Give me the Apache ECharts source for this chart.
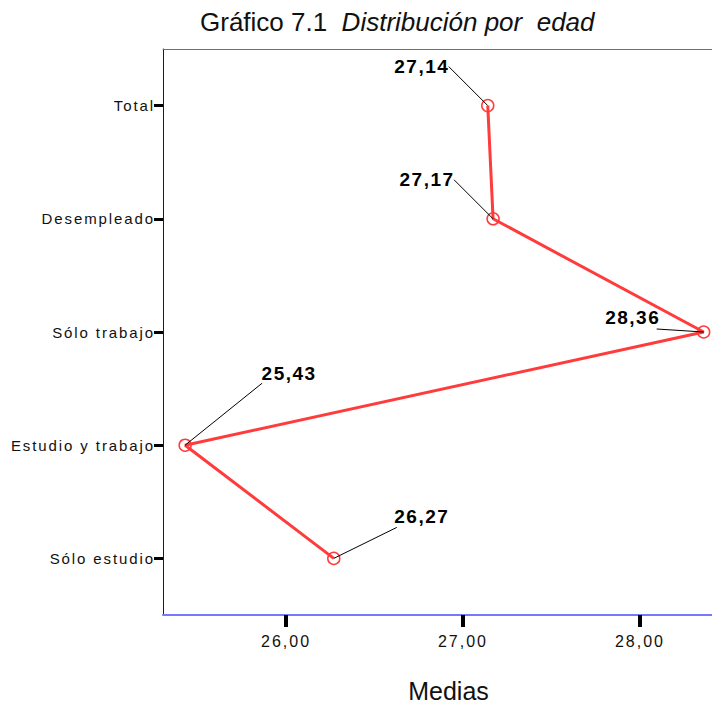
<!DOCTYPE html>
<html><head><meta charset="utf-8">
<script src="https://cdn.jsdelivr.net/npm/echarts@6/dist/echarts.min.js"></script>
<style>
html,body{margin:0;padding:0;background:#fff}
#c{width:712px;height:705px}
#c text{white-space:pre}
#c text[style*="15px"]{letter-spacing:1.9px}
#c text[style*="16px"]{letter-spacing:2px}
#c text[style*="19px"]{letter-spacing:1.5px}
</style></head><body><div id="c"></div>
<script>
const categories = ['Total', 'Desempleado', 'Sólo trabajo', 'Estudio y trabajo', 'Sólo estudio'];
const medias = [27.14, 27.17, 28.36, 25.43, 26.27];
const xTicks = [26, 27, 28];
const titleMain = 'Gráfico 7.1';
const titleItalic = 'Distribución por  edad';
const axisName = 'Medias';

// label placement (text centre and leader start, relative to each point)
const textOff = [[-66, -39], [-66, -39], [-71, -15], [104, -72], [88, -42]];
const lineOff = [[-39, -39], [-39, -39], [-47, -3], [77, -62], [63, -31]];

const FF = '"Liberation Sans", Arial, sans-serif';
const fmt = v => v.toFixed(2).replace('.', ',');
const XMIN = 25.305, XMAX = 28.407;

const chart = echarts.init(document.getElementById('c'), null, {renderer: 'svg'});
chart.setOption({
  animation: false,
  backgroundColor: '#fff',
  title: {
    text: titleMain + '  {i|' + titleItalic + '}',
    left: 195, top: 4,
    textStyle: {
      fontFamily: FF, fontSize: 26, fontWeight: 'normal', color: '#111',
      rich: {i: {fontFamily: FF, fontSize: 26, fontStyle: 'italic', color: '#111'}}
    }
  },
  grid: {left: 163, right: 0, top: 49, bottom: 90, containLabel: false, outerBoundsMode: 'none'},
  xAxis: [{
    type: 'value', min: XMIN, max: XMAX, position: 'bottom',
    axisLine: {show: true, onZero: false, lineStyle: {color: '#7777ff', width: 2}},
    axisTick: {show: true, customValues: xTicks, length: 12, lineStyle: {color: '#000', width: 4}},
    axisLabel: {customValues: xTicks, formatter: v => fmt(v), margin: 18,
      fontFamily: FF, fontSize: 16, color: '#111'},
    splitLine: {show: false},
    name: axisName, nameLocation: 'middle', nameGap: 63,
    nameTextStyle: {fontFamily: FF, fontSize: 25, color: '#111', padding: [0, 0, 0, 22]}
  }, {
    type: 'value', min: XMIN, max: XMAX, position: 'top',
    axisLine: {show: true, onZero: false, lineStyle: {color: '#6060f0', width: 1}},
    axisTick: {show: false}, axisLabel: {show: false}, splitLine: {show: false}
  }],
  yAxis: {
    type: 'category', data: categories, inverse: true,
    axisLine: {show: true, onZero: false, lineStyle: {color: '#0000ff', width: 1}},
    axisTick: {show: true, alignWithLabel: true, length: 9, lineStyle: {color: '#000', width: 3}},
    axisLabel: {margin: 8, fontFamily: FF, fontSize: 15, color: '#111', padding: [3, 0, 0, 0]},
    splitLine: {show: false}
  },
  series: [{
    type: 'line', xAxisIndex: 0, data: medias, z: 2, silent: true,
    symbol: 'circle', symbolSize: 12,
    lineStyle: {color: '#ff3b3b', width: 3},
    itemStyle: {color: 'rgba(0,0,0,0)', borderColor: '#ff3b3b', borderWidth: 1.5},
    emphasis: {disabled: true}
  }, {
    type: 'custom', xAxisIndex: 0, z: 3, silent: true,
    data: medias.map((v, i) => [v, i]),
    encode: {x: 0, y: 1},
    renderItem: (params, api) => {
      const i = params.dataIndex;
      const v = api.value(0);
      const p = api.coord([v, api.value(1)]);
      return {
        type: 'group',
        children: [{
          type: 'line',
          shape: {x1: p[0] + lineOff[i][0], y1: p[1] + lineOff[i][1], x2: p[0], y2: p[1]},
          style: {stroke: '#000', lineWidth: 1}
        }, {
          type: 'text',
          x: p[0] + textOff[i][0], y: p[1] + textOff[i][1],
          style: {text: fmt(v), font: 'bold 19px ' + FF, fill: '#000',
            align: 'center', verticalAlign: 'middle'}
        }]
      };
    }
  }]
});
</script></body></html>
